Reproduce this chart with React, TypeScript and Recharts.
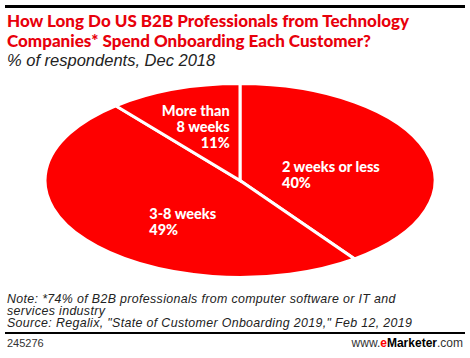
import { Pie, PieChart } from 'recharts';

const SEGMENTS = ['2 weeks or less', '3-8 weeks', 'More than 8 weeks'];
const SHARES = [40, 49, 11];
const LABEL_LINES = [['2 weeks or less'], ['3-8 weeks'], ['More than', '8 weeks']];

const RED = '#fe0000';
const SQUASH = 0.497; // the pie is drawn as an ellipse
const CX = 235;
const CY = 100;
const R = 195;

// label placement, relative to the polar point at 55% of the radius
const LABEL_POS = [
  { anchor: 'start', dx: -60, dy: 5 },
  { anchor: 'start', dx: -6, dy: 3 },
  { anchor: 'end', dx: 26, dy: -17 },
];

const data = SEGMENTS.map((name, i) => ({ name, value: SHARES[i] }));

function renderLabel(props: any) {
  const { cx, cy, midAngle, outerRadius, index } = props;
  const rad = (Math.PI / 180) * midAngle;
  const r = outerRadius * 0.55;
  const px = cx + r * Math.cos(rad);
  const py = cy - r * Math.sin(rad) * SQUASH;
  const pos = LABEL_POS[index];
  const lines = [...LABEL_LINES[index], `${SHARES[index]}%`];
  return (
    <text
      key={index}
      x={px + pos.dx}
      y={py + pos.dy}
      textAnchor={pos.anchor}
      fill="#fff"
      fontFamily="Lato, 'Open Sans', sans-serif"
      fontWeight={900}
      fontSize={14.5}
    >
      {lines.map((l, j) => (
        <tspan key={j} x={px + pos.dx} dy={j === 0 ? 0 : 16}>{l}</tspan>
      ))}
    </text>
  );
}

const NOTE_LINES = [
  'Note: *74% of B2B professionals from computer software or IT and',
  'services industry',
  'Source: Regalix, "State of Customer Onboarding 2019," Feb 12, 2019',
];

export default function App() {
  return (
    <div style={{ position: 'absolute', left: 0, top: 0, width: 470, height: 358, background: '#fff', fontFamily: 'Lato, sans-serif', overflow: 'hidden' }}>
      <style>{`
        .ellipse-pie .recharts-pie-sector { transform-origin: ${CX}px ${CY}px; transform: scaleY(${SQUASH}); }
        .ellipse-pie .recharts-sector { vector-effect: non-scaling-stroke; }
      `}</style>
      <div style={{ position: 'absolute', left: 5, top: 5, width: 460, height: 3, background: '#000' }} />
      <div style={{ position: 'absolute', left: 7, top: 11, width: 460, color: '#e8000b', fontWeight: 900, fontSize: 17, lineHeight: '20px' }}>
        How Long Do US B2B Professionals from Technology<br />Companies* Spend Onboarding Each Customer?
      </div>
      <div style={{ position: 'absolute', left: 7, top: 51, color: '#222', fontStyle: 'italic', fontSize: 16.5, lineHeight: '18px', fontFamily: "'Liberation Sans', Arial, sans-serif" }}>
        % of respondents, Dec 2018
      </div>
      <div className="ellipse-pie" style={{ position: 'absolute', left: 0, top: 78 }}>
        <PieChart width={470} height={200}>
          <Pie
            data={data}
            dataKey="value"
            nameKey="name"
            cx={CX}
            cy={CY}
            outerRadius={R}
            startAngle={90}
            endAngle={-270}
            fill={RED}
            stroke="#fff"
            strokeWidth={3}
            label={renderLabel}
            labelLine={false}
            isAnimationActive={false}
          />
        </PieChart>
      </div>
      {NOTE_LINES.map((t, i) => (
        <div key={i} style={{ position: 'absolute', left: 7, top: 293 + i * 12, color: '#222', fontStyle: 'italic', fontSize: 12.4, letterSpacing: 0.35, lineHeight: '12px', whiteSpace: 'nowrap', fontFamily: "'Liberation Sans', Arial, sans-serif" }}>
          {t}
        </div>
      ))}
      <div style={{ position: 'absolute', left: 5, top: 332, width: 460, height: 2, background: '#000' }} />
      <div style={{ position: 'absolute', left: 7, top: 337, color: '#333', fontSize: 11, fontFamily: "'Liberation Sans', Arial, sans-serif" }}>245276</div>
      <div style={{ position: 'absolute', right: 7, top: 336, color: '#333', fontSize: 12, fontFamily: "'Liberation Sans', Arial, sans-serif" }}>
        www.<span style={{ color: RED, fontWeight: 700 }}>e</span><span style={{ color: '#000', fontWeight: 700 }}>Marketer</span>.com
      </div>
    </div>
  );
}
